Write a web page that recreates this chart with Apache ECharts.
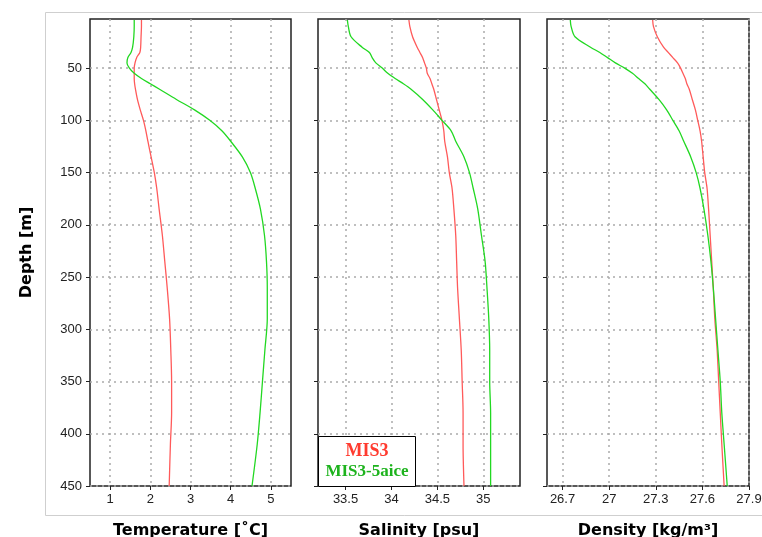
<!DOCTYPE html>
<html>
<head>
<meta charset="utf-8">
<script src="https://cdn.jsdelivr.net/npm/echarts@6/dist/echarts.min.js"></script>
<style>
  html, body { margin: 0; padding: 0; background: #fff; }
  #main { width: 762px; height: 537px; }
</style>
</head>
<body>
<div id="main"></div>
<script>
// depth levels [m]
var depth = [4, 10, 20, 30, 35, 40, 45, 50, 55, 60, 65, 70, 80, 90, 100, 110, 120, 135, 150, 165, 185, 210, 235, 260, 290, 320, 350, 380, 410, 450];

// temperature [C]
var tempMIS3 = [1.78, 1.78, 1.77, 1.76, 1.74, 1.66, 1.62, 1.60, 1.60, 1.60, 1.61, 1.63, 1.68, 1.75, 1.83, 1.89, 1.94, 2.02, 2.10, 2.16, 2.22, 2.30, 2.36, 2.42, 2.48, 2.51, 2.53, 2.53, 2.50, 2.47];
var tempAice = [1.60, 1.60, 1.59, 1.56, 1.52, 1.44, 1.42, 1.48, 1.60, 1.78, 2.00, 2.22, 2.65, 3.10, 3.48, 3.78, 4.00, 4.29, 4.49, 4.61, 4.74, 4.84, 4.89, 4.91, 4.91, 4.85, 4.79, 4.73, 4.66, 4.53];

// salinity [psu]
var saltMIS3 = [34.19, 34.20, 34.23, 34.28, 34.31, 34.34, 34.36, 34.38, 34.39, 34.42, 34.44, 34.46, 34.49, 34.52, 34.55, 34.57, 34.58, 34.61, 34.63, 34.66, 34.68, 34.70, 34.71, 34.72, 34.74, 34.76, 34.77, 34.78, 34.78, 34.79];
var saltAice = [33.52, 33.53, 33.56, 33.68, 33.76, 33.79, 33.83, 33.90, 33.96, 34.04, 34.13, 34.21, 34.34, 34.45, 34.55, 34.65, 34.70, 34.79, 34.85, 34.89, 34.94, 34.98, 35.02, 35.04, 35.06, 35.07, 35.07, 35.08, 35.08, 35.08];

// density [kg/m3]
var densMIS3 = [27.28, 27.285, 27.31, 27.35, 27.38, 27.41, 27.44, 27.46, 27.475, 27.49, 27.50, 27.515, 27.535, 27.555, 27.57, 27.585, 27.595, 27.605, 27.615, 27.63, 27.64, 27.65, 27.66, 27.67, 27.68, 27.695, 27.705, 27.715, 27.725, 27.74];
var densAice = [26.75, 26.755, 26.78, 26.88, 26.94, 26.99, 27.04, 27.10, 27.15, 27.19, 27.23, 27.26, 27.32, 27.37, 27.41, 27.45, 27.48, 27.525, 27.56, 27.585, 27.61, 27.635, 27.655, 27.67, 27.685, 27.70, 27.715, 27.725, 27.74, 27.76];

var depthTicks = [50, 100, 150, 200, 250, 300, 350, 400, 450];
var tempTicks = [1, 2, 3, 4, 5];
var saltTicks = [33.5, 34, 34.5, 35];
var densTicks = [26.7, 27, 27.3, 27.6, 27.9];

var redColor = '#ff5a5a';
var greenColor = '#22d822';

var chart = echarts.init(document.getElementById('main'));

function pairs(vals) {
  var out = [];
  for (var i = 0; i < depth.length; i++) {
    out.push([vals[i], depth[i]]);
  }
  return out;
}

var gridLine = { show: true, lineStyle: { color: '#aaa', type: [2, 4], width: 1.5 } };
var nameStyle = { fontSize: 16, fontWeight: 'bold', color: '#000', fontFamily: 'DejaVu Sans' };

function xAx(idx, min, max, ticks, name) {
  return {
    type: 'value', gridIndex: idx, min: min, max: max,
    name: name, nameLocation: 'middle', nameGap: 37,
    nameTextStyle: nameStyle,
    axisLine: { show: false },
    axisTick: { show: true, inside: false, length: 4, customValues: ticks, lineStyle: { color: '#222' } },
    axisLabel: { customValues: ticks, fontSize: 13, color: '#222', margin: 7, fontFamily: 'Liberation Sans',
      formatter: function (v) { return String(Math.round(v * 10) / 10); } },
    splitLine: gridLine
  };
}

function yAx(idx, showLabel) {
  return {
    type: 'value', gridIndex: idx, inverse: true, min: 3, max: 450,
    name: showLabel ? 'Depth [m]' : '', nameLocation: 'middle', nameGap: 55,
    nameTextStyle: nameStyle,
    axisLine: { show: false },
    axisTick: { show: true, length: 4, customValues: depthTicks, lineStyle: { color: '#222' } },
    axisLabel: { show: showLabel, customValues: depthTicks, fontSize: 13, color: '#222', margin: 8, fontFamily: 'Liberation Sans' },
    splitLine: gridLine
  };
}

function ser(idx, vals, color) {
  return {
    type: 'line', xAxisIndex: idx, yAxisIndex: idx,
    data: pairs(vals), smooth: 0.3, showSymbol: false,
    lineStyle: { color: color, width: 1.3 }, silent: true
  };
}

function grd(left, width) {
  return { left: left, top: 19, width: width, height: 467, show: true, borderColor: '#222', borderWidth: 1.5,
    backgroundColor: 'transparent', containLabel: false, outerBoundsMode: 'none' };
}

var option = {
  animation: false,
  backgroundColor: '#fff',
  grid: [grd(90, 201), grd(318, 202), grd(547, 202)],
  xAxis: [
    xAx(0, 0.5, 5.5, tempTicks, 'Temperature [\u02DAC]'),
    xAx(1, 33.2, 35.4, saltTicks, 'Salinity [psu]'),
    xAx(2, 26.6, 27.9, densTicks, 'Density [kg/m\u00B3]')
  ],
  yAxis: [yAx(0, true), yAx(1, false), yAx(2, false)],
  series: [
    ser(0, tempMIS3, redColor), ser(0, tempAice, greenColor),
    ser(1, saltMIS3, redColor), ser(1, saltAice, greenColor),
    ser(2, densMIS3, redColor), ser(2, densAice, greenColor)
  ],
  graphic: [
    { type: 'rect', shape: { x: 45.5, y: 12.5, width: 760, height: 503 }, style: { fill: 'none', stroke: '#cfcfcf', lineWidth: 1 }, z: -10, silent: true },
    { type: 'rect', shape: { x: 318.5, y: 436.5, width: 97, height: 50 }, style: { fill: '#fff', stroke: '#000', lineWidth: 1 }, z: 100 },
    { type: 'text', x: 367, y: 451, z: 101, style: { text: 'MIS3', fill: '#ff3b2f', font: 'bold 18px "Liberation Serif"', textAlign: 'center', textVerticalAlign: 'middle' } },
    { type: 'text', x: 367, y: 472, z: 101, style: { text: 'MIS3-5aice', fill: '#1db31d', font: 'bold 17px "Liberation Serif"', textAlign: 'center', textVerticalAlign: 'middle' } }
  ]
};

chart.setOption(option);
</script>
</body>
</html>
